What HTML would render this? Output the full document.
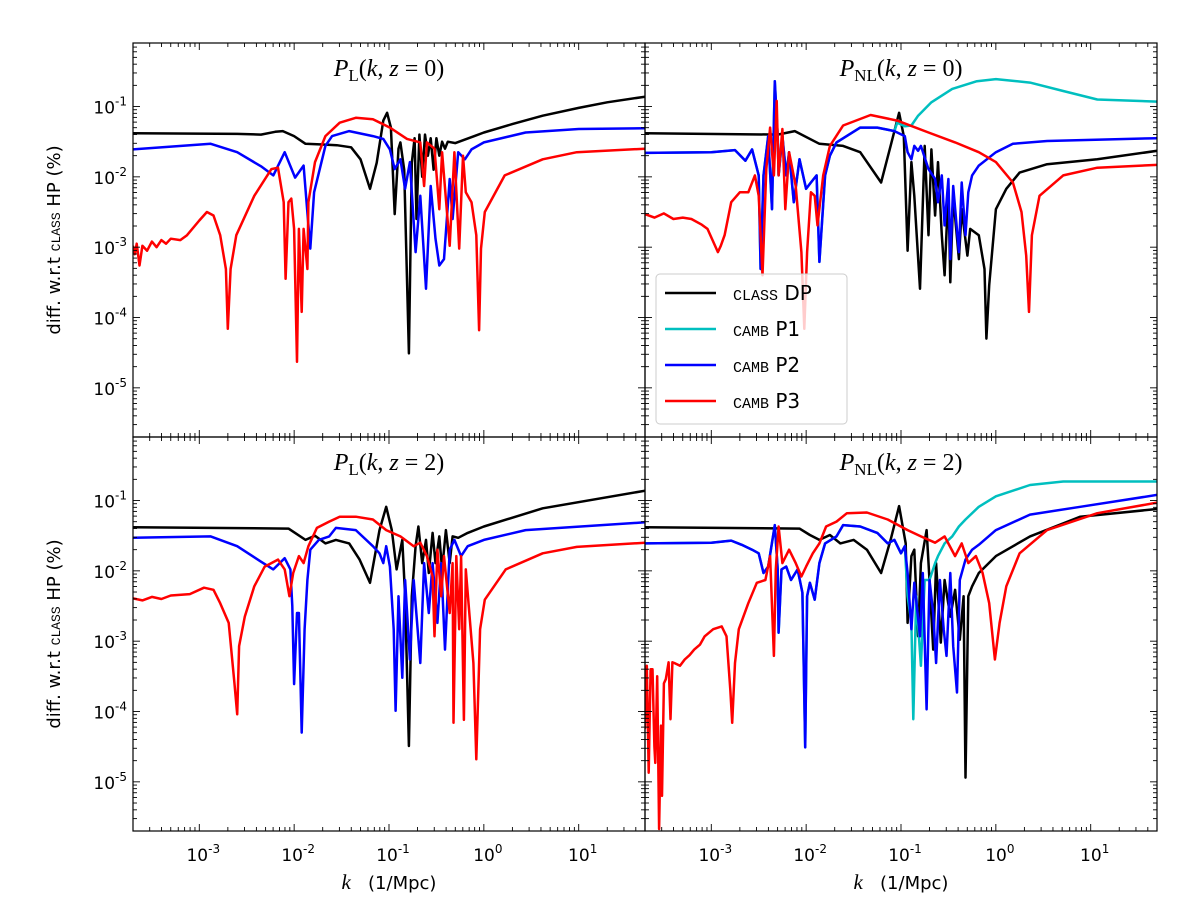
<!DOCTYPE html>
<html><head><meta charset="utf-8"><style>
html,body{margin:0;padding:0;background:#fff;}
svg{display:block;font-family:"DejaVu Sans","Liberation Sans",sans-serif;}
</style></head><body>
<svg id="fig" width="1178" height="910" viewBox="0 0 1178 910" xmlns="http://www.w3.org/2000/svg"></svg>
<script>
// data as [log10 k, log10 percent]
const plz0_classDP=[[-3.7,-1.38],[-2.6,-1.39],[-2.35,-1.40],[-2.2,-1.36],[-2.12,-1.35],[-2.0,-1.42],[-1.88,-1.53],[-1.7,-1.54],[-1.55,-1.55],[-1.40,-1.58],[-1.30,-1.75],[-1.2,-2.17],[-1.13,-1.8],[-1.06,-1.2],[-1.02,-1.09],[-0.98,-1.3],[-0.94,-2.53],[-0.9,-1.6],[-0.88,-1.51],[-0.84,-1.9],[-0.79,-4.51],[-0.76,-1.8],[-0.73,-1.45],[-0.71,-2.6],[-0.68,-1.4],[-0.65,-2.0],[-0.62,-1.4],[-0.59,-1.7],[-0.56,-1.45],[-0.53,-1.9],[-0.50,-1.45],[-0.47,-1.7],[-0.44,-1.5],[-0.41,-1.6],[-0.38,-1.5],[-0.3,-1.52],[-0.1,-1.42],[0.0,-1.37],[0.3,-1.25],[0.62,-1.13],[1.0,-1.02],[1.3,-0.94],[1.7,-0.86]];
const plz0_cambP2=[[-3.7,-1.61],[-2.88,-1.53],[-2.6,-1.65],[-2.35,-1.85],[-2.22,-1.98],[-2.10,-1.65],[-1.99,-2.01],[-1.90,-1.84],[-1.83,-3.02],[-1.79,-2.22],[-1.67,-1.56],[-1.60,-1.42],[-1.42,-1.35],[-1.17,-1.42],[-1.06,-1.46],[-0.99,-1.61],[-0.94,-1.89],[-0.88,-1.75],[-0.83,-2.17],[-0.78,-1.79],[-0.72,-3.07],[-0.67,-2.27],[-0.61,-3.59],[-0.56,-2.13],[-0.51,-2.88],[-0.47,-3.26],[-0.42,-3.17],[-0.36,-2.03],[-0.33,-2.60],[-0.27,-1.65],[-0.20,-1.75],[-0.13,-1.61],[0,-1.51],[0.44,-1.37],[1.0,-1.32],[1.7,-1.31]];
const plz0_cambP3=[[-3.7,-2.98],[-3.68,-3.1],[-3.66,-2.95],[-3.63,-3.26],[-3.60,-2.98],[-3.55,-3.05],[-3.5,-2.92],[-3.45,-3.0],[-3.4,-2.9],[-3.35,-2.95],[-3.3,-2.88],[-3.2,-2.9],[-3.13,-2.83],[-3.0,-2.62],[-2.92,-2.50],[-2.85,-2.55],[-2.78,-2.83],[-2.72,-3.31],[-2.70,-4.16],[-2.67,-3.31],[-2.61,-2.83],[-2.42,-2.27],[-2.24,-1.89],[-2.17,-1.87],[-2.11,-2.36],[-2.09,-3.45],[-2.06,-2.36],[-2.03,-2.31],[-2.00,-2.74],[-1.97,-4.63],[-1.95,-2.74],[-1.92,-3.92],[-1.90,-2.74],[-1.86,-3.31],[-1.85,-2.36],[-1.78,-1.79],[-1.67,-1.42],[-1.52,-1.23],[-1.35,-1.16],[-1.17,-1.18],[-0.99,-1.30],[-0.81,-1.46],[-0.67,-1.51],[-0.63,-2.13],[-0.60,-1.51],[-0.52,-1.60],[-0.47,-2.46],[-0.44,-1.65],[-0.36,-2.98],[-0.31,-1.65],[-0.26,-3.02],[-0.22,-1.70],[-0.19,-2.22],[-0.13,-2.36],[-0.08,-2.83],[-0.05,-4.18],[-0.03,-3.02],[0.01,-2.50],[0.22,-1.98],[0.62,-1.75],[0.98,-1.65],[1.7,-1.60]];

const pnlz0_classDP=[[-3.7,-1.38],[-2.3,-1.40],[-2.12,-1.35],[-1.86,-1.53],[-1.61,-1.56],[-1.43,-1.65],[-1.21,-2.08],[-1.11,-1.56],[-1.02,-1.09],[-0.97,-1.42],[-0.93,-3.05],[-0.89,-1.79],[-0.86,-2.27],[-0.80,-3.59],[-0.75,-1.56],[-0.71,-2.83],[-0.68,-1.61],[-0.64,-2.55],[-0.61,-1.79],[-0.57,-2.83],[-0.54,-3.40],[-0.50,-2.17],[-0.48,-3.50],[-0.45,-2.27],[-0.39,-3.17],[-0.36,-2.46],[-0.30,-3.12],[-0.27,-2.74],[-0.18,-2.83],[-0.12,-3.31],[-0.10,-4.30],[-0.07,-3.54],[0,-2.46],[0.11,-2.17],[0.25,-1.94],[0.54,-1.82],[1.07,-1.75],[1.7,-1.63]];
const pnlz0_cambP2=[[-3.7,-1.66],[-3.0,-1.65],[-2.75,-1.62],[-2.64,-1.77],[-2.57,-1.61],[-2.50,-1.98],[-2.48,-3.31],[-2.45,-1.98],[-2.40,-1.42],[-2.36,-2.46],[-2.33,-0.64],[-2.30,-1.42],[-2.29,-1.98],[-2.25,-1.42],[-2.21,-1.98],[-2.18,-1.65],[-2.13,-2.36],[-2.07,-1.75],[-2.00,-2.17],[-1.95,-2.08],[-1.89,-1.98],[-1.86,-3.21],[-1.80,-1.98],[-1.75,-1.70],[-1.68,-1.51],[-1.43,-1.30],[-1.25,-1.30],[-1.07,-1.35],[-0.96,-1.42],[-0.93,-1.65],[-0.89,-1.75],[-0.86,-1.56],[-0.82,-1.63],[-0.79,-1.56],[-0.71,-1.89],[-0.64,-2.03],[-0.61,-2.36],[-0.57,-1.98],[-0.54,-2.69],[-0.50,-2.03],[-0.48,-3.17],[-0.45,-2.13],[-0.39,-3.07],[-0.36,-2.08],[-0.32,-2.83],[-0.29,-2.22],[-0.25,-1.98],[-0.18,-1.84],[0,-1.65],[0.18,-1.53],[0.54,-1.49],[1.7,-1.45]];
const pnlz0_cambP1=[[-3.7,-1.66],[-3.0,-1.65],[-2.75,-1.62],[-2.64,-1.77],[-2.57,-1.61],[-2.50,-1.98],[-2.48,-3.31],[-2.45,-1.98],[-2.40,-1.42],[-2.36,-2.46],[-2.33,-0.64],[-2.30,-1.42],[-2.29,-1.98],[-2.25,-1.42],[-2.21,-1.98],[-2.18,-1.65],[-2.13,-2.36],[-2.07,-1.75],[-2.00,-2.17],[-1.95,-2.08],[-1.89,-1.98],[-1.86,-3.21],[-1.80,-1.98],[-1.75,-1.70],[-1.68,-1.51],[-1.43,-1.30],[-1.25,-1.30],[-1.07,-1.35],[-1.04,-1.23],[-0.96,-1.28],[-0.89,-1.27],[-0.82,-1.13],[-0.68,-0.94],[-0.46,-0.75],[-0.2,-0.64],[0,-0.61],[0.36,-0.66],[0.71,-0.78],[1.07,-0.90],[1.7,-0.93]];
const pnlz0_cambP3=[[-3.7,-2.53],[-3.6,-2.58],[-3.5,-2.52],[-3.4,-2.60],[-3.3,-2.58],[-3.21,-2.60],[-3.1,-2.68],[-3.04,-2.74],[-2.93,-3.07],[-2.90,-2.98],[-2.86,-2.83],[-2.79,-2.36],[-2.70,-2.22],[-2.61,-2.22],[-2.54,-1.98],[-2.50,-2.27],[-2.46,-3.40],[-2.42,-1.89],[-2.38,-1.30],[-2.34,-1.98],[-2.31,-0.92],[-2.29,-1.98],[-2.25,-1.32],[-2.22,-2.46],[-2.18,-1.65],[-2.11,-2.13],[-2.05,-3.07],[-2.02,-4.16],[-1.99,-3.07],[-1.95,-2.22],[-1.91,-2.27],[-1.88,-2.69],[-1.82,-1.98],[-1.75,-1.56],[-1.61,-1.27],[-1.32,-1.12],[-1.04,-1.20],[-0.71,-1.37],[-0.43,-1.51],[-0.18,-1.65],[0,-1.79],[0.18,-2.08],[0.27,-2.50],[0.32,-3.12],[0.35,-3.92],[0.38,-2.83],[0.46,-2.27],[0.71,-1.98],[1.07,-1.87],[1.7,-1.83]];

const plz2_classDP=[[-3.7,-1.38],[-2.06,-1.40],[-1.99,-1.46],[-1.88,-1.56],[-1.78,-1.50],[-1.67,-1.61],[-1.56,-1.56],[-1.42,-1.61],[-1.31,-1.84],[-1.20,-2.17],[-1.10,-1.42],[-1.03,-1.09],[-0.97,-1.42],[-0.92,-1.98],[-0.86,-1.56],[-0.83,-2.36],[-0.79,-4.49],[-0.76,-2.36],[-0.72,-1.65],[-0.69,-1.37],[-0.65,-1.89],[-0.61,-1.56],[-0.58,-2.03],[-0.54,-1.46],[-0.51,-1.89],[-0.47,-1.51],[-0.44,-1.98],[-0.40,-1.42],[-0.36,-1.89],[-0.33,-1.51],[-0.27,-1.53],[-0.17,-1.46],[0,-1.37],[0.62,-1.11],[1.7,-0.86]];
const plz2_cambP2=[[-3.7,-1.53],[-2.88,-1.51],[-2.60,-1.65],[-2.35,-1.87],[-2.22,-1.98],[-2.10,-1.82],[-2.04,-1.98],[-2.02,-2.50],[-2.00,-3.61],[-1.97,-2.60],[-1.95,-2.60],[-1.92,-4.30],[-1.89,-2.83],[-1.86,-2.13],[-1.83,-1.70],[-1.74,-1.56],[-1.63,-1.51],[-1.56,-1.39],[-1.35,-1.42],[-1.17,-1.65],[-1.10,-1.75],[-1.06,-1.89],[-1.03,-1.65],[-0.99,-1.94],[-0.95,-2.83],[-0.93,-3.99],[-0.90,-2.36],[-0.86,-3.52],[-0.83,-2.13],[-0.78,-3.26],[-0.74,-2.13],[-0.67,-3.31],[-0.63,-1.89],[-0.58,-2.60],[-0.54,-1.89],[-0.49,-2.74],[-0.45,-1.89],[-0.41,-3.12],[-0.36,-1.70],[-0.31,-1.56],[-0.24,-1.79],[-0.17,-1.65],[0,-1.56],[0.44,-1.42],[1.7,-1.31]];
const plz2_cambP3=[[-3.7,-2.39],[-3.6,-2.42],[-3.5,-2.37],[-3.4,-2.40],[-3.3,-2.35],[-3.1,-2.33],[-2.95,-2.24],[-2.85,-2.27],[-2.78,-2.46],[-2.69,-2.74],[-2.63,-3.59],[-2.60,-4.04],[-2.58,-3.07],[-2.52,-2.65],[-2.42,-2.22],[-2.31,-1.94],[-2.17,-1.84],[-2.10,-1.98],[-2.05,-2.36],[-2.01,-2.03],[-1.95,-1.79],[-1.90,-1.89],[-1.85,-1.65],[-1.76,-1.39],[-1.63,-1.30],[-1.52,-1.23],[-1.35,-1.23],[-1.17,-1.27],[-1.03,-1.42],[-0.88,-1.51],[-0.74,-1.65],[-0.67,-1.60],[-0.60,-1.79],[-0.54,-2.08],[-0.52,-2.93],[-0.49,-1.70],[-0.45,-2.36],[-0.42,-1.79],[-0.36,-2.60],[-0.33,-1.89],[-0.32,-4.16],[-0.29,-1.79],[-0.26,-2.83],[-0.24,-1.79],[-0.21,-4.12],[-0.19,-1.98],[-0.15,-2.65],[-0.11,-3.31],[-0.08,-4.68],[-0.04,-2.83],[0.01,-2.41],[0.23,-1.98],[0.62,-1.75],[0.98,-1.66],[1.7,-1.60]];

const pnlz2_classDP=[[-3.7,-1.38],[-2.07,-1.40],[-1.96,-1.49],[-1.86,-1.56],[-1.75,-1.49],[-1.64,-1.61],[-1.50,-1.56],[-1.36,-1.70],[-1.21,-2.03],[-1.11,-1.56],[-1.02,-1.08],[-0.95,-1.61],[-0.93,-2.74],[-0.89,-1.79],[-0.86,-1.70],[-0.82,-2.93],[-0.79,-1.89],[-0.73,-1.42],[-0.70,-2.13],[-0.66,-3.12],[-0.63,-1.89],[-0.58,-3.02],[-0.54,-2.13],[-0.48,-2.65],[-0.43,-2.27],[-0.38,-2.98],[-0.34,-2.36],[-0.32,-4.94],[-0.29,-2.36],[-0.25,-2.22],[-0.18,-2.03],[0,-1.79],[0.36,-1.51],[0.89,-1.23],[1.7,-1.12]];
const pnlz2_cambP2=[[-3.7,-1.61],[-3.0,-1.60],[-2.79,-1.57],[-2.68,-1.63],[-2.57,-1.70],[-2.50,-1.75],[-2.45,-2.03],[-2.40,-1.94],[-2.33,-1.35],[-2.30,-1.98],[-2.29,-2.88],[-2.26,-1.98],[-2.21,-1.94],[-2.16,-2.13],[-2.09,-1.98],[-2.04,-2.31],[-2.01,-4.51],[-1.99,-2.36],[-1.96,-2.17],[-1.91,-2.41],[-1.86,-1.89],[-1.80,-1.61],[-1.68,-1.51],[-1.61,-1.35],[-1.43,-1.37],[-1.25,-1.46],[-1.14,-1.61],[-1.07,-1.56],[-1.0,-1.75],[-0.96,-1.65],[-0.93,-2.03],[-0.89,-2.83],[-0.86,-2.17],[-0.80,-2.93],[-0.77,-2.03],[-0.73,-3.97],[-0.70,-2.13],[-0.66,-2.60],[-0.63,-3.31],[-0.59,-2.13],[-0.55,-2.83],[-0.52,-3.21],[-0.48,-2.03],[-0.45,-3.07],[-0.41,-3.73],[-0.38,-2.13],[-0.32,-1.84],[-0.25,-1.70],[-0.18,-1.63],[0,-1.42],[0.36,-1.20],[0.89,-1.09],[1.7,-0.92]];
const pnlz2_cambP1=[[-3.7,-1.61],[-3.0,-1.60],[-2.79,-1.57],[-2.68,-1.63],[-2.57,-1.70],[-2.50,-1.75],[-2.45,-2.03],[-2.40,-1.94],[-2.33,-1.35],[-2.30,-1.98],[-2.29,-2.88],[-2.26,-1.98],[-2.21,-1.94],[-2.16,-2.13],[-2.09,-1.98],[-2.04,-2.31],[-2.01,-4.51],[-1.99,-2.36],[-1.96,-2.17],[-1.91,-2.41],[-1.86,-1.89],[-1.80,-1.61],[-1.68,-1.51],[-1.61,-1.35],[-1.43,-1.37],[-1.25,-1.46],[-1.14,-1.61],[-1.07,-1.56],[-1.0,-1.75],[-0.96,-1.65],[-0.93,-2.36],[-0.89,-2.74],[-0.87,-4.11],[-0.84,-2.36],[-0.79,-3.35],[-0.75,-2.13],[-0.70,-2.13],[-0.64,-1.89],[-0.61,-1.79],[-0.54,-1.61],[-0.46,-1.51],[-0.39,-1.37],[-0.32,-1.27],[-0.18,-1.09],[0,-0.94],[0.36,-0.78],[0.71,-0.73],[1.7,-0.73]];
const pnlz2_cambP3=[[-3.7,-4.25],[-3.68,-3.35],[-3.66,-4.87],[-3.64,-3.4],[-3.62,-3.40],[-3.60,-4.5],[-3.59,-4.73],[-3.57,-3.5],[-3.55,-5.67],[-3.53,-4.2],[-3.52,-5.20],[-3.50,-3.6],[-3.48,-3.54],[-3.45,-3.3],[-3.43,-4.11],[-3.41,-3.3],[-3.39,-3.31],[-3.33,-3.35],[-3.28,-3.26],[-3.23,-3.20],[-3.18,-3.12],[-3.12,-3.05],[-3.07,-2.93],[-2.98,-2.83],[-2.89,-2.79],[-2.84,-2.93],[-2.80,-3.69],[-2.78,-4.16],[-2.75,-3.31],[-2.71,-2.83],[-2.61,-2.46],[-2.52,-2.17],[-2.43,-2.13],[-2.38,-1.79],[-2.34,-3.21],[-2.32,-1.98],[-2.29,-1.37],[-2.25,-1.89],[-2.18,-1.70],[-2.11,-1.89],[-2.05,-2.08],[-2.00,-1.94],[-1.93,-1.75],[-1.86,-1.61],[-1.79,-1.37],[-1.68,-1.30],[-1.57,-1.18],[-1.36,-1.17],[-1.14,-1.27],[-0.93,-1.42],[-0.79,-1.51],[-0.64,-1.60],[-0.54,-1.51],[-0.43,-1.79],[-0.36,-1.61],[-0.29,-1.89],[-0.21,-1.79],[-0.14,-2.03],[-0.07,-2.46],[-0.01,-3.26],[0.04,-2.74],[0.11,-2.22],[0.25,-1.75],[0.54,-1.42],[1.07,-1.18],[1.7,-1.03]];

const xTickExps=[-3,-2,-1,0,1];
const yTickExps=[-1,-2,-3,-4,-5];
const legendLabels=[["CLASS","DP"],["CAMB","P1"],["CAMB","P2"],["CAMB","P3"]];
const legendColors=["#000000","#00bfbf","#0000ff","#ff0000"];

const NS="http://www.w3.org/2000/svg";
const svg=document.getElementById('fig');
function el(tag,attrs,parent){const e=document.createElementNS(NS,tag);for(const k in attrs)e.setAttribute(k,attrs[k]);(parent||svg).appendChild(e);return e;}
const SERIF='font-family:"Liberation Serif",serif;';
const MONO='font-family:"Liberation Mono",monospace;font-variant:small-caps;';
const XMIN=Math.log10(2e-4), XMAX=Math.log10(50), YMAX=Math.log10(0.8), YMIN=Math.log10(2e-6);
const PW=512, PH=394;
const panels=[
 {x0:133,y0:43,title:["L","0"],series:[[plz0_classDP,"#000000","class-dp"],[plz0_cambP2,"#0000ff","camb-p2"],[plz0_cambP3,"#ff0000","camb-p3"]],left:true,bottom:false,name:"panel-pl-z0"},
 {x0:645,y0:43,title:["NL","0"],series:[[pnlz0_classDP,"#000000","class-dp"],[pnlz0_cambP1,"#00bfbf","camb-p1"],[pnlz0_cambP2,"#0000ff","camb-p2"],[pnlz0_cambP3,"#ff0000","camb-p3"]],left:false,bottom:false,legend:true,name:"panel-pnl-z0"},
 {x0:133,y0:437,title:["L","2"],series:[[plz2_classDP,"#000000","class-dp"],[plz2_cambP2,"#0000ff","camb-p2"],[plz2_cambP3,"#ff0000","camb-p3"]],left:true,bottom:true,name:"panel-pl-z2"},
 {x0:645,y0:437,title:["NL","2"],series:[[pnlz2_classDP,"#000000","class-dp"],[pnlz2_cambP1,"#00bfbf","camb-p1"],[pnlz2_cambP2,"#0000ff","camb-p2"],[pnlz2_cambP3,"#ff0000","camb-p3"]],left:false,bottom:true,name:"panel-pnl-z2"}
];
panels.forEach((p,pi)=>{
 const g=el('g',{});
 
 
 const sx=lk=>p.x0+(lk-XMIN)/(XMAX-XMIN)*PW;
 const sy=lv=>p.y0+(YMAX-lv)/(YMAX-YMIN)*PH;
 const cp=el('clipPath',{id:'cp'+pi},g);
 el('rect',{x:p.x0,y:p.y0,width:PW,height:PH},cp);
 p.series.forEach(s=>{
  const d=s[0].map((pt,i)=>(i?'L':'M')+sx(pt[0]).toFixed(1)+','+sy(pt[1]).toFixed(1)).join('');
  const path=el('path',{d:d,fill:'none',stroke:s[1],'stroke-width':2.5,'stroke-linejoin':'round','clip-path':'url(#cp'+pi+')'},g);
  
  
 });
 const tg=el('g',{stroke:'#000','stroke-width':0.9},g);
 for(let n=-4;n<=2;n++){for(let m=1;m<=9;m++){const lk=n+Math.log10(m);if(lk<XMIN||lk>XMAX)continue;const x=sx(lk);const L=m===1?7:4;
  el('line',{x1:x,y1:p.y0+PH,x2:x,y2:p.y0+PH-L},tg);el('line',{x1:x,y1:p.y0,x2:x,y2:p.y0+L},tg);}}
 for(let n=-7;n<=0;n++){for(let m=1;m<=9;m++){const lv=n+Math.log10(m);if(lv<YMIN||lv>YMAX)continue;const y=sy(lv);const L=m===1?7:4;
  el('line',{x1:p.x0,y1:y,x2:p.x0+L,y2:y},tg);el('line',{x1:p.x0+PW,y1:y,x2:p.x0+PW-L,y2:y},tg);}}
 const frame=el('rect',{x:p.x0,y:p.y0,width:PW,height:PH,fill:'none',stroke:'#000','stroke-width':1.2},g);
 
 
 const t=el('text',{x:p.x0+PW/2,y:p.y0+33,'text-anchor':'middle','font-size':24,style:SERIF},g);
 
 
 t.innerHTML='<tspan font-style="italic">P</tspan><tspan font-size="17" dy="5">'+p.title[0]+'</tspan><tspan dy="-5">(</tspan><tspan font-style="italic">k</tspan>, <tspan font-style="italic">z</tspan> = '+p.title[1]+')';
 if(p.left){
  yTickExps.forEach(e=>{const y=sy(e);
   const tx=el('text',{x:p.x0-6,y:y+7,'text-anchor':'end','font-size':17},g);
   
   
   tx.innerHTML='10<tspan font-size="12" dy="-8">'+e+'</tspan>';});
  const yl=el('text',{transform:'translate(60,'+(p.y0+PH/2)+') rotate(-90)','text-anchor':'middle','font-size':18},g);
  
  
  yl.innerHTML='diff. w.r.t <tspan style=\''+MONO+'\' font-size="19">class</tspan> HP (%)';
 }
 if(p.bottom){
  xTickExps.forEach(e=>{const x=sx(e);
   const tx=el('text',{x:x+4,y:p.y0+PH+30,'text-anchor':'middle','font-size':17},g);
   
   
   tx.innerHTML='10<tspan font-size="12" dy="-8">'+e+'</tspan>';});
  const xl=el('text',{x:p.x0+PW/2,y:p.y0+PH+58,'text-anchor':'middle','font-size':18,style:'white-space:pre'},g);
  
  
  xl.innerHTML='<tspan style=\''+SERIF+'\' font-style="italic" font-size="21">k</tspan>   (1/Mpc)';
 }
 if(p.legend){
  const lg=el('g',{},g);
  
  
  el('rect',{x:656,y:274,width:191,height:150,rx:4,fill:'#fff','fill-opacity':0.8,stroke:'#ccc','stroke-width':1},lg);
  legendLabels.forEach((lab,i)=>{const y=293+i*36;
   const en=el('g',{},lg);
   
   
   el('line',{x1:665,y1:y,x2:716,y2:y,stroke:legendColors[i],'stroke-width':2.5},en);
   const tx=el('text',{x:733,y:y+7,'font-size':20},en);
   tx.innerHTML='<tspan style=\''+MONO+'\' font-size="21">'+lab[0].toLowerCase()+'</tspan> '+lab[1];
  });
 }
});
</script>
</body></html>
